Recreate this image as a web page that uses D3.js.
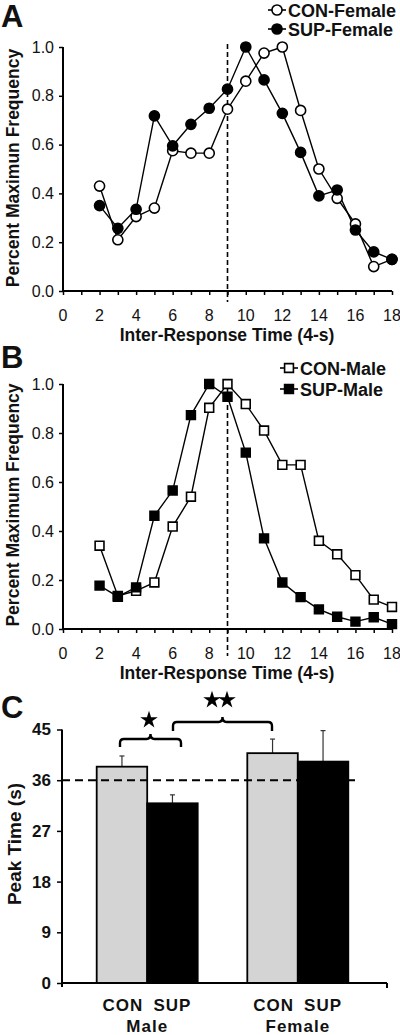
<!DOCTYPE html>
<html><head><meta charset="utf-8">
<script src="https://cdn.jsdelivr.net/npm/d3@7"></script>
<style>body{margin:0;background:#fff}svg{display:block}text{font-family:Arial,"Liberation Sans",sans-serif;fill:#111}</style>
</head><body><svg id="c" width="400" height="1035"></svg>
<script>
const bins = [2,3,4,5,6,7,8,9,10,11,12,13,14,15,16,17,18];
const conFemale = [0.43,0.21,0.305,0.34,0.575,0.565,0.565,0.745,0.86,0.975,1.0,0.74,0.50,0.38,0.275,0.10,0.13];
const supFemale = [0.35,0.257,0.335,0.718,0.595,0.683,0.749,0.827,1.0,0.865,0.728,0.568,0.39,0.414,0.25,0.16,0.13];
const conMale = [0.34,0.135,0.156,0.19,0.418,0.54,0.903,1.0,0.918,0.81,0.67,0.67,0.36,0.305,0.22,0.12,0.09];
const supMale = [0.177,0.132,0.17,0.462,0.565,0.873,1.0,0.948,0.72,0.37,0.19,0.13,0.08,0.05,0.03,0.048,0.02];
const yTicksAB = [0,0.2,0.4,0.6,0.8,1.0];
const xTickLabelsAB = [0,2,4,6,8,10,12,14,16,18];
const criterion = 9;

const groups = ["Male","Female"];
const conds = ["CON","SUP"];
const peakMeans = {Male:[38.4,31.9], Female:[40.8,39.3]};
const peakErr = {Male:[1.9,1.5], Female:[2.5,5.5]};
const yTicksC = [0,9,18,27,36,45];
const targetTime = 36;

const svg = d3.select("#c");

function linePanel(cfg){
  const x = d3.scaleLinear().domain([0,18]).range([63,392]);
  const y = d3.scaleLinear().domain([0,1]).range([cfg.y0, cfg.y1]);
  const g = svg.append("g");
  const ya = g.append("g").attr("transform","translate(63,0)")
    .call(d3.axisLeft(y).tickValues(yTicksAB).tickFormat(d3.format(".1f")).tickSize(4).tickPadding(5));
  ya.select(".domain").attr("stroke","#000").attr("stroke-width",2).attr("d",`M0,${cfg.y1}V${cfg.y0}`);
  ya.selectAll(".tick line").attr("stroke","#000").attr("stroke-width",1.5);
  ya.selectAll(".tick text").attr("font-size",16).attr("font-family","Arial,'Liberation Sans',sans-serif").attr("fill","#111");
  const xa = g.append("g").attr("transform",`translate(0,${cfg.y0})`)
    .call(d3.axisBottom(x).ticks(18).tickSize(4).tickFormat(""));
  xa.select(".domain").attr("stroke","#000").attr("stroke-width",2).attr("d",`M63,0H392`);
  xa.selectAll(".tick line").attr("stroke","#000").attr("stroke-width",1.5);
  g.selectAll(".xl").data(xTickLabelsAB).enter().append("text")
    .attr("x",d=>x(d)).attr("y",cfg.y0+30).attr("text-anchor","middle")
    .attr("font-size",16).text(d=>d);
  g.append("line").attr("x1",x(criterion)).attr("x2",x(criterion))
    .attr("y1",cfg.y1-3).attr("y2",cfg.dashEnd)
    .attr("stroke","#000").attr("stroke-width",1.6).attr("stroke-dasharray","5,3");
  g.append("text").attr("x",227).attr("y",cfg.y0+50).attr("text-anchor","middle")
    .attr("font-size",17.5).attr("font-weight","bold").text("Inter-Response Time (4-s)");
  g.append("text").attr("transform",`translate(19,${cfg.ylabY}) rotate(-90)`).attr("text-anchor","middle")
    .attr("font-size",17.5).attr("font-weight","bold").text(cfg.ylab);
  g.append("text").attr("x",1).attr("y",cfg.letterY).attr("font-size",31).attr("font-weight","bold").text(cfg.letter);

  const line = d3.line().x((d,i)=>x(bins[i])).y(d=>y(d));
  cfg.series.forEach(s=>{
    g.append("path").datum(s.vals).attr("d",line).attr("fill","none").attr("stroke","#000").attr("stroke-width",1.4);
  });
  cfg.series.forEach(s=>{
    const sym = d3.symbol().type(s.shape==="circle"?d3.symbolCircle:d3.symbolSquare).size(s.shape==="circle"?80:78);
    g.selectAll(null).data(s.vals).enter().append("path")
      .attr("d",sym).attr("transform",(d,i)=>`translate(${x(bins[i])},${y(d)})`)
      .attr("fill",s.filled?"#000":"#fff").attr("stroke","#000").attr("stroke-width",1.6);
    const ly = s.legY;
    g.append("line").attr("x1",s.legX-9).attr("x2",s.legX+9).attr("y1",ly).attr("y2",ly).attr("stroke","#000").attr("stroke-width",1.6);
    g.append("path").attr("d",sym).attr("transform",`translate(${s.legX},${ly})`)
      .attr("fill",s.filled?"#000":"#fff").attr("stroke","#000").attr("stroke-width",1.6);
    g.append("text").attr("x",s.legX+11).attr("y",ly+6.5).attr("font-size",18).attr("font-weight","bold").text(s.name);
  });
}

linePanel({y0:291,y1:47,dashEnd:302,letter:"A",letterY:27,ylab:"Percent Maximun Frequency",ylabY:168,
  series:[{name:"CON-Female",vals:conFemale,shape:"circle",filled:false,legX:277,legY:10},
          {name:"SUP-Female",vals:supFemale,shape:"circle",filled:true,legX:277,legY:29}]});
linePanel({y0:629,y1:384,dashEnd:656,letter:"B",letterY:368,ylab:"Percent Maximum Frequency",ylabY:505,
  series:[{name:"CON-Male",vals:conMale,shape:"square",filled:false,legX:289,legY:368},
          {name:"SUP-Male",vals:supMale,shape:"square",filled:true,legX:289,legY:389}]});

(function(){
  const y = d3.scaleLinear().domain([0,45]).range([983,729.5]);
  const gx = {Male:96.7, Female:247.3};
  const bw = 50.5;
  const g = svg.append("g");
  const ya = g.append("g").attr("transform","translate(62,0)")
    .call(d3.axisLeft(y).tickValues(yTicksC).tickSize(5).tickPadding(6));
  ya.select(".domain").attr("stroke","#000").attr("stroke-width",2).attr("d",`M0,${y(45)}V${y(0)+4}`);
  ya.selectAll(".tick line").attr("stroke","#000").attr("stroke-width",1.5);
  ya.selectAll(".tick text").attr("font-size",17).attr("font-weight","bold")
    .attr("font-family","'Liberation Sans Narrow','Arial Narrow',Arial,sans-serif").attr("fill","#111");
  groups.forEach(gr=>{
    conds.forEach((c,i)=>{
      const v = peakMeans[gr][i], e = peakErr[gr][i];
      const xl = gx[gr] + i*bw;
      g.append("line").attr("x1",xl+bw/2).attr("x2",xl+bw/2).attr("y1",y(v)).attr("y2",y(v+e)).attr("stroke","#333").attr("stroke-width",1.2);
      g.append("line").attr("x1",xl+bw/2-2.5).attr("x2",xl+bw/2+2.5).attr("y1",y(v+e)).attr("y2",y(v+e)).attr("stroke","#333").attr("stroke-width",1.2);
      g.append("rect").attr("x",xl).attr("y",y(v)).attr("width",bw).attr("height",y(0)-y(v))
        .attr("fill",c==="CON"?"#d4d4d4":"#000").attr("stroke","#000").attr("stroke-width",1.8);
      g.append("text").attr("x",xl+bw/2+(i===0?1:0)).attr("y",1011).attr("text-anchor","middle")
        .attr("font-size",17).attr("font-weight","bold").attr("letter-spacing",1).text(c);
    });
    g.append("text").attr("x",gx[gr]+bw).attr("y",1032).attr("text-anchor","middle")
      .attr("font-size",17).attr("font-weight","bold").attr("letter-spacing",1).text(gr);
  });
  g.append("path").attr("d",`M62,${y(0)}H387M387,${y(0)}v5`).attr("stroke","#000").attr("stroke-width",2).attr("fill","none");
  g.append("line").attr("x1",62).attr("x2",355).attr("y1",y(targetTime)).attr("y2",y(targetTime))
    .attr("stroke","#000").attr("stroke-width",2).attr("stroke-dasharray","8,5");
  function brace(xa,xb,yTop,depth){
    const xm=(xa+xb)/2, r=4;
    return `M${xa},${yTop+depth}V${yTop+r}Q${xa},${yTop} ${xa+r},${yTop}H${xm-r}Q${xm},${yTop} ${xm},${yTop-5}Q${xm},${yTop} ${xm+r},${yTop}H${xb-r}Q${xb},${yTop} ${xb},${yTop+r}V${yTop+depth}`;
  }
  g.append("path").attr("d",brace(120,181,739,8)).attr("fill","none").attr("stroke","#000").attr("stroke-width",2.4);
  g.append("path").attr("d",brace(173,272,722,9)).attr("fill","none").attr("stroke","#000").attr("stroke-width",2.4);
  const star = d3.symbol().type(d3.symbolStar).size(95);
  [[149,720],[212,700],[227,700]].forEach(p=>{
    g.append("path").attr("d",star).attr("transform",`translate(${p[0]},${p[1]})`).attr("fill","#000");
  });
  g.append("text").attr("transform","translate(21,844) rotate(-90)").attr("text-anchor","middle")
    .attr("font-size",19).attr("font-weight","bold").text("Peak Time (s)");
  g.append("text").attr("x",1).attr("y",718).attr("font-size",31).attr("font-weight","bold").text("C");
})();
</script></body></html>
